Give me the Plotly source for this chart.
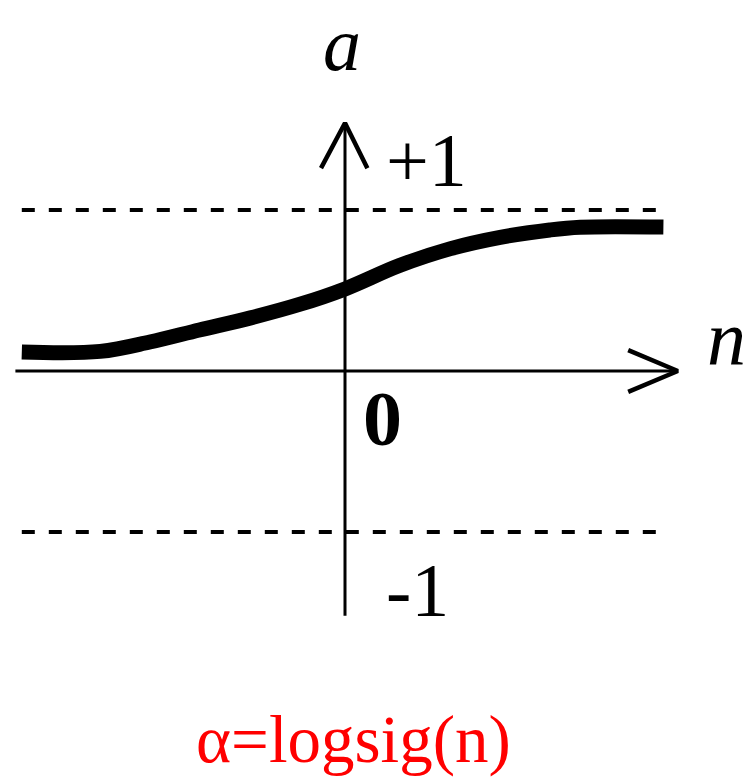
import plotly.graph_objects as go

# Log-sigmoid transfer function sketch: a = logsig(n)
n_vals = [-2.02, -1.53, -1.22, -0.91, -0.59, -0.28, 0.0, 0.34, 0.66, 0.97, 1.28, 1.47, 1.99]
a_vals = [0.118, 0.122, 0.180, 0.255, 0.330, 0.415, 0.510, 0.655, 0.760, 0.830, 0.876, 0.893, 0.894]

# reference levels (+1 / -1) drawn as dashed lines
levels = [1, -1]
level_span = [-2.02, 2.02]

# axis extents
h_axis = [-2.06, 2.08]
v_axis = [-1.52, 1.54]

W, H = 755, 779
px_per_unit_x, px_per_unit_y = 160, 161
origin_px = (345, 371)

x_range = [-origin_px[0] / px_per_unit_x, (W - origin_px[0]) / px_per_unit_x]
y_range = [(origin_px[1] - H) / px_per_unit_y, origin_px[1] / px_per_unit_y]

fig = go.Figure()

# dashed +1 / -1 guides
for lv in levels:
    fig.add_trace(go.Scatter(
        x=level_span, y=[lv, lv], mode="lines",
        line=dict(color="black", width=4, dash="13px,14px"),
        hoverinfo="skip", showlegend=False))

# horizontal n axis with arrow head
fig.add_trace(go.Scatter(
    x=h_axis, y=[0, 0], mode="lines",
    line=dict(color="black", width=3), hoverinfo="skip", showlegend=False))
fig.add_trace(go.Scatter(
    x=[1.77, h_axis[1], 1.77], y=[0.13, 0, -0.13], mode="lines",
    line=dict(color="black", width=4.5), hoverinfo="skip", showlegend=False))

# vertical a axis with arrow head
fig.add_trace(go.Scatter(
    x=[0, 0], y=v_axis, mode="lines",
    line=dict(color="black", width=3), hoverinfo="skip", showlegend=False))
fig.add_trace(go.Scatter(
    x=[-0.15, 0, 0.14], y=[1.26, v_axis[1], 1.26], mode="lines",
    line=dict(color="black", width=4.5), hoverinfo="skip", showlegend=False))

# the transfer curve
fig.add_trace(go.Scatter(
    x=n_vals, y=a_vals, mode="lines",
    line=dict(color="black", width=15, shape="spline", smoothing=1.0),
    hoverinfo="skip", showlegend=False))

serif = "Liberation Serif"


def px_to_data(px, py):
    return ((px - origin_px[0]) / px_per_unit_x, (origin_px[1] - py) / px_per_unit_y)


def label(text, px, py, size, italic=False, bold=False, color="black"):
    x, y = px_to_data(px, py)
    if bold:
        text = f"<b>{text}</b>"
    if italic:
        text = f"<i>{text}</i>"
    fig.add_annotation(
        x=x, y=y, xref="x", yref="y", text=text, showarrow=False,
        xanchor="center", yanchor="middle",
        font=dict(family=serif, size=size, color=color))


label("a", 342, 44, 76, italic=True)
label("n", 726, 338, 78, italic=True)
label("+1", 426, 160, 76)
label("0", 382, 418, 78, bold=True)
label("-1", 417, 590, 76)
label("α=logsig(n)", 353, 739, 67, color="#ff0000")

fig.update_layout(
    width=W, height=H,
    margin=dict(l=0, r=0, t=0, b=0),
    paper_bgcolor="white", plot_bgcolor="white",
    xaxis=dict(range=x_range, visible=False, fixedrange=True),
    yaxis=dict(range=y_range, visible=False, fixedrange=True),
    showlegend=False,
)

fig.write_html("out.html")
